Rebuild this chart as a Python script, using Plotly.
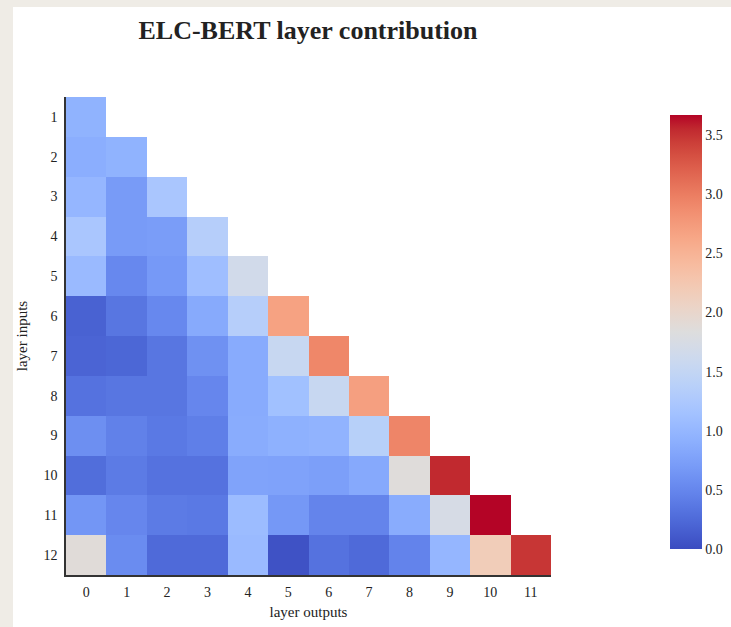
import plotly.graph_objects as go

layer_outputs = list(range(12))          # columns 0..11
layer_inputs = list(range(1, 13))        # rows 1..12

row_1 = [0.95]
row_2 = [0.90, 0.95]
row_3 = [1.00, 0.70, 1.22]
row_4 = [1.22, 0.70, 0.72, 1.35]
row_5 = [1.05, 0.52, 0.68, 1.10, 1.67]
row_6 = [0.18, 0.35, 0.52, 0.86, 1.35, 2.68]
row_7 = [0.20, 0.22, 0.35, 0.60, 0.87, 1.55, 2.92]
row_8 = [0.32, 0.35, 0.35, 0.50, 0.87, 1.13, 1.55, 2.70]
row_9 = [0.58, 0.45, 0.38, 0.43, 0.88, 0.93, 0.96, 1.37, 2.93]
row_10 = [0.28, 0.40, 0.32, 0.32, 0.78, 0.77, 0.74, 0.84, 1.86, 3.55]
row_11 = [0.65, 0.50, 0.40, 0.38, 1.07, 0.67, 0.48, 0.48, 0.88, 1.73, 3.67]
row_12 = [1.88, 0.55, 0.25, 0.25, 1.05, 0.05, 0.32, 0.25, 0.47, 1.00, 2.17, 3.48]

rows = [row_1, row_2, row_3, row_4, row_5, row_6, row_7, row_8, row_9, row_10, row_11, row_12]
z = [r + [None] * (12 - len(r)) for r in rows]

coolwarm_rgb = [
    (59, 76, 192), (68, 90, 204), (77, 104, 215), (87, 117, 225), (98, 130, 234),
    (108, 142, 241), (119, 154, 247), (130, 165, 251), (141, 176, 254), (152, 185, 255),
    (163, 194, 255), (174, 201, 253), (184, 208, 249), (194, 213, 244), (204, 217, 238),
    (213, 219, 230), (221, 221, 221), (229, 216, 209), (236, 211, 197), (241, 204, 184),
    (245, 196, 172), (247, 187, 159), (247, 177, 147), (247, 166, 134), (244, 154, 123),
    (241, 141, 111), (236, 127, 99), (229, 112, 88), (222, 96, 77), (213, 80, 66),
    (203, 62, 56), (192, 40, 47), (180, 4, 38),
]
n = len(coolwarm_rgb) - 1
colorscale = [[i / n, "rgb(%d,%d,%d)" % c] for i, c in enumerate(coolwarm_rgb)]

serif = "Liberation Serif, Times New Roman, serif"

W, H = 731, 627
ml, mr, mt, mb = 66, 180, 97, 52
pw, ph = W - ml - mr, H - mt - mb


def px_x(p):
    return (p - ml) / pw


def px_y(p):
    return (H - mb - p) / ph


fig = go.Figure(
    go.Heatmap(
        z=z,
        x=layer_outputs,
        y=layer_inputs,
        colorscale=colorscale,
        zmin=0,
        zmax=3.67,
        hoverongaps=False,
        colorbar=dict(
            x=px_x(670), xanchor="left", xref="paper", xpad=0,
            y=px_y((115 + 549) / 2), yanchor="middle", ypad=0,
            len=(549 - 115) / ph, lenmode="fraction",
            thickness=32,
            outlinewidth=0,
            tickvals=[0, 0.5, 1, 1.5, 2, 2.5, 3, 3.5],
            ticktext=["0.0", "0.5", "1.0", "1.5", "2.0", "2.5", "3.0", "3.5"],
            ticks="",
            tickfont=dict(family=serif, size=14, color="#222"),
        ),
    )
)

fig.add_shape(type="rect", xref="paper", yref="paper",
              x0=px_x(13), x1=px_x(W + 5), y0=px_y(H + 5), y1=px_y(7),
              fillcolor="white", line_width=0, layer="below")

fig.update_layout(
    width=W, height=H,
    margin=dict(l=ml, r=mr, t=mt, b=mb, autoexpand=False),
    paper_bgcolor="#efece6",
    plot_bgcolor="rgba(0,0,0,0)",
    title=dict(text="<b>ELC-BERT layer contribution</b>", x=px_x(308), xanchor="center",
               xref="paper", y=1 - 30 / H, yanchor="middle",
               font=dict(family=serif, size=26, color="#222")),
    font=dict(family=serif, color="#222"),
    xaxis=dict(
        range=[-0.5, 11.5], tickmode="array", tickvals=layer_outputs,
        ticktext=[str(v) for v in layer_outputs], automargin=False,
        showgrid=False, zeroline=False, showline=True, linecolor="#333", linewidth=1.5,
        ticks="outside", ticklen=3, tickcolor="rgba(0,0,0,0)",
        tickfont=dict(family=serif, size=14, color="#222"),
        title=dict(text="layer outputs", font=dict(family=serif, size=15, color="#222"), standoff=8),
    ),
    yaxis=dict(
        range=[12.5, 0.5], tickmode="array", tickvals=layer_inputs,
        ticktext=[str(v) for v in layer_inputs], automargin=False,
        showgrid=False, zeroline=False, showline=True, linecolor="#333", linewidth=1.5,
        ticks="outside", ticklen=4, tickcolor="rgba(0,0,0,0)",
        tickfont=dict(family=serif, size=14, color="#222"),
        title=dict(text="layer inputs", font=dict(family=serif, size=15, color="#222"), standoff=12),
    ),
)

fig.write_html(
    "out.html",
    config={"displayModeBar": False},
    post_script=(
        "document.documentElement.style.overflow='hidden';"
        "document.body.style.margin='0';"
        "document.body.style.overflow='hidden';"
        "document.body.style.background='#efece6';"
    ),
)
